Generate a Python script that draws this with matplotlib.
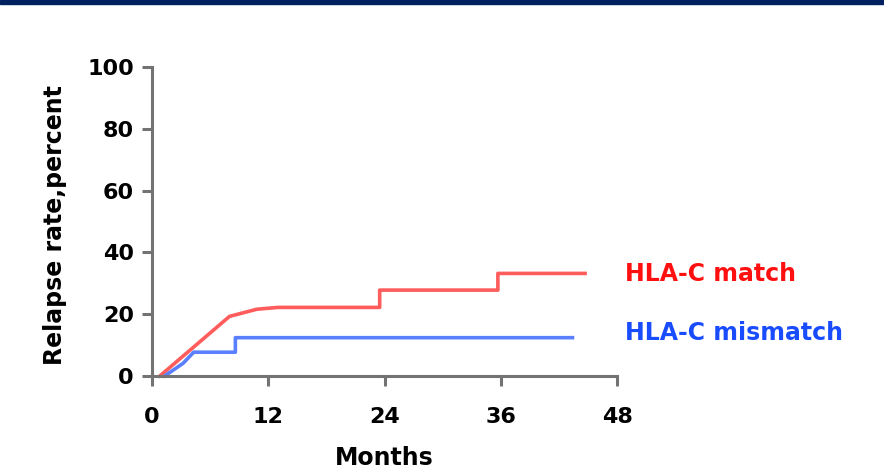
import matplotlib.pyplot as plt
from matplotlib.patches import Rectangle

# curve data (months, relapse %)
match_months = [0.8, 8.0, 10.8, 13.0, 23.5, 23.5, 35.7, 35.7, 44.7]
match_rate = [0, 19.3, 21.6, 22.2, 22.2, 27.8, 27.8, 33.2, 33.2]

mismatch_months = [1.3, 3.2, 4.3, 8.6, 8.6, 43.4]
mismatch_rate = [0, 4.1, 7.7, 7.7, 12.4, 12.4]

x_ticks = [0, 12, 24, 36, 48]
y_ticks = [0, 20, 40, 60, 80, 100]

plt.rcParams['font.family'] = ['DejaVu Sans']
plt.rcParams['font.weight'] = 'bold'

fig = plt.figure(figsize=(8.84, 4.71), dpi=100)
ax = fig.add_axes([0.172, 0.2017, 0.526, 0.656])

# navy band on top
fig.patches.append(Rectangle((0, 0.991), 1, 0.009, transform=fig.transFigure,
                             color="#002060", zorder=0))

ax.plot(match_months, match_rate, color="#ff5c5c", lw=2.6, clip_on=False)
ax.plot(mismatch_months, mismatch_rate, color="#5a80ff", lw=2.6, clip_on=False)

ax.set_xlim(0, 48)
ax.set_ylim(0, 100)
ax.set_xticks(x_ticks)
ax.set_yticks(y_ticks)

for s in ["top", "right"]:
    ax.spines[s].set_visible(False)
for s in ["left", "bottom"]:
    ax.spines[s].set_color("#737373")
    ax.spines[s].set_linewidth(2.2)
ax.tick_params(axis="both", length=7, width=2.2, color="#737373",
               labelsize=16, pad=6)
for lab in ax.get_xticklabels() + ax.get_yticklabels():
    lab.set_fontweight("bold")
ax.tick_params(axis="x", pad=15)

ax.set_xlabel("Months", fontsize=17, fontweight="bold")
ax.set_ylabel("Relapse rate,percent", fontsize=17, fontweight="bold")
ax.xaxis.set_label_coords(0.5, -0.228)
ax.yaxis.set_label_coords(-0.183, 0.49)

ax.text(48.8, 33, "HLA-C match", color="#ff1010", fontsize=17,
        fontweight="bold", va="center", ha="left", clip_on=False)
ax.text(48.8, 14, "HLA-C mismatch", color="#1a4cff", fontsize=17,
        fontweight="bold", va="center", ha="left", clip_on=False)

plt.savefig("out.png", dpi=100)
